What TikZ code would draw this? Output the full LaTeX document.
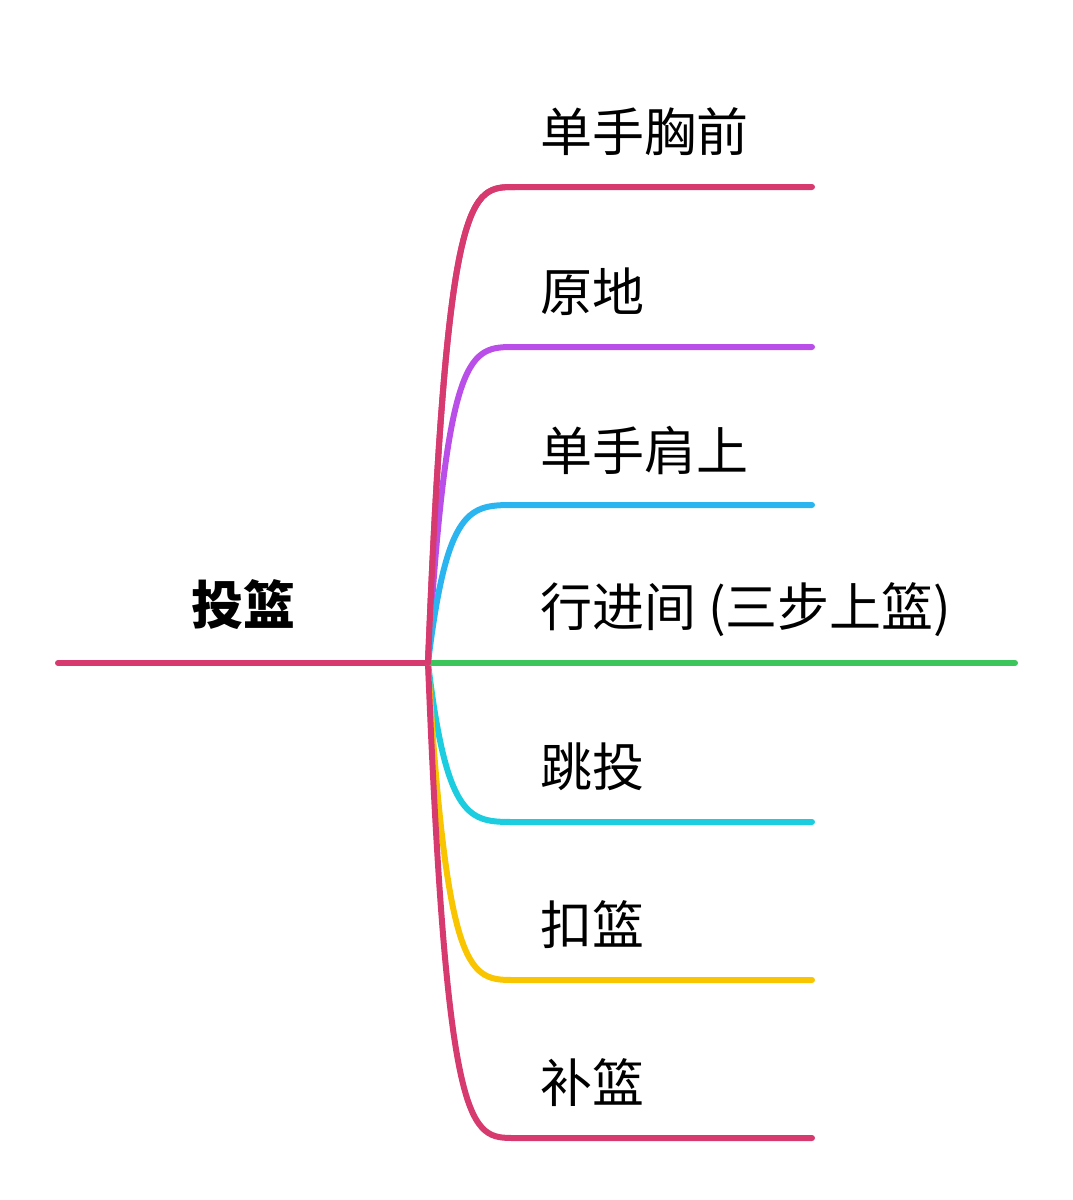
\documentclass[tikz,border=0pt]{standalone}
\usepackage{fontspec}
\setmainfont{Noto Sans CJK SC}
\usetikzlibrary{positioning}
\definecolor{cPink}{HTML}{D63A6E}
\definecolor{cPurple}{HTML}{B94FE8}
\definecolor{cBlue}{HTML}{2BB5F0}
\definecolor{cGreen}{HTML}{3CC55A}
\definecolor{cCyan}{HTML}{1CCDE0}
\definecolor{cYellow}{HTML}{F8C500}
\tikzset{
  branch/.style={line width=3pt,line cap=round},
  lbl/.style={anchor=west,font=\fontsize{26}{30}\selectfont,inner sep=0pt}
}
\begin{document}
\begin{tikzpicture}[x=0.5pt,y=-0.5pt]
                \useasboundingbox (0,0) rectangle (1072,1200);
                \coordinate (Start) at (58,663);
                \coordinate (Root) at (428,663);
                \node[lbl,font=\fontsize{26}{30}\selectfont\bfseries,anchor=center](Title)at(243,605){投篮};
                \draw[branch,cPink] (Start) -- (Root);
                % branches: name / y / colour / label
                \foreach \n/\y/\c/\t in {b1/187/cPink/单手胸前, b2/347/cPurple/原地, b3/505/cBlue/单手肩上,
                                         b5/822/cCyan/跳投, b6/980/cYellow/扣篮, b7/1138/cPink/补篮}{
                    \coordinate (\n) at (812,\y);
                    \draw[branch,\c] (Root) .. controls (447,\y) and (470,\y) .. (515,\y) -- (\n);
                    \node[lbl](\n l)at(540,\y-55){\t};
                }
                \coordinate (b4) at (1015,663);
                \draw[branch,cGreen] (Root) -- (b4);
                \node[lbl](b4l)at(540,610){行进间 (三步上篮)};
                \draw[branch,cPink] (Root) .. controls (447,187) and (470,187) .. (515,187);
\end{tikzpicture}
\end{document}
